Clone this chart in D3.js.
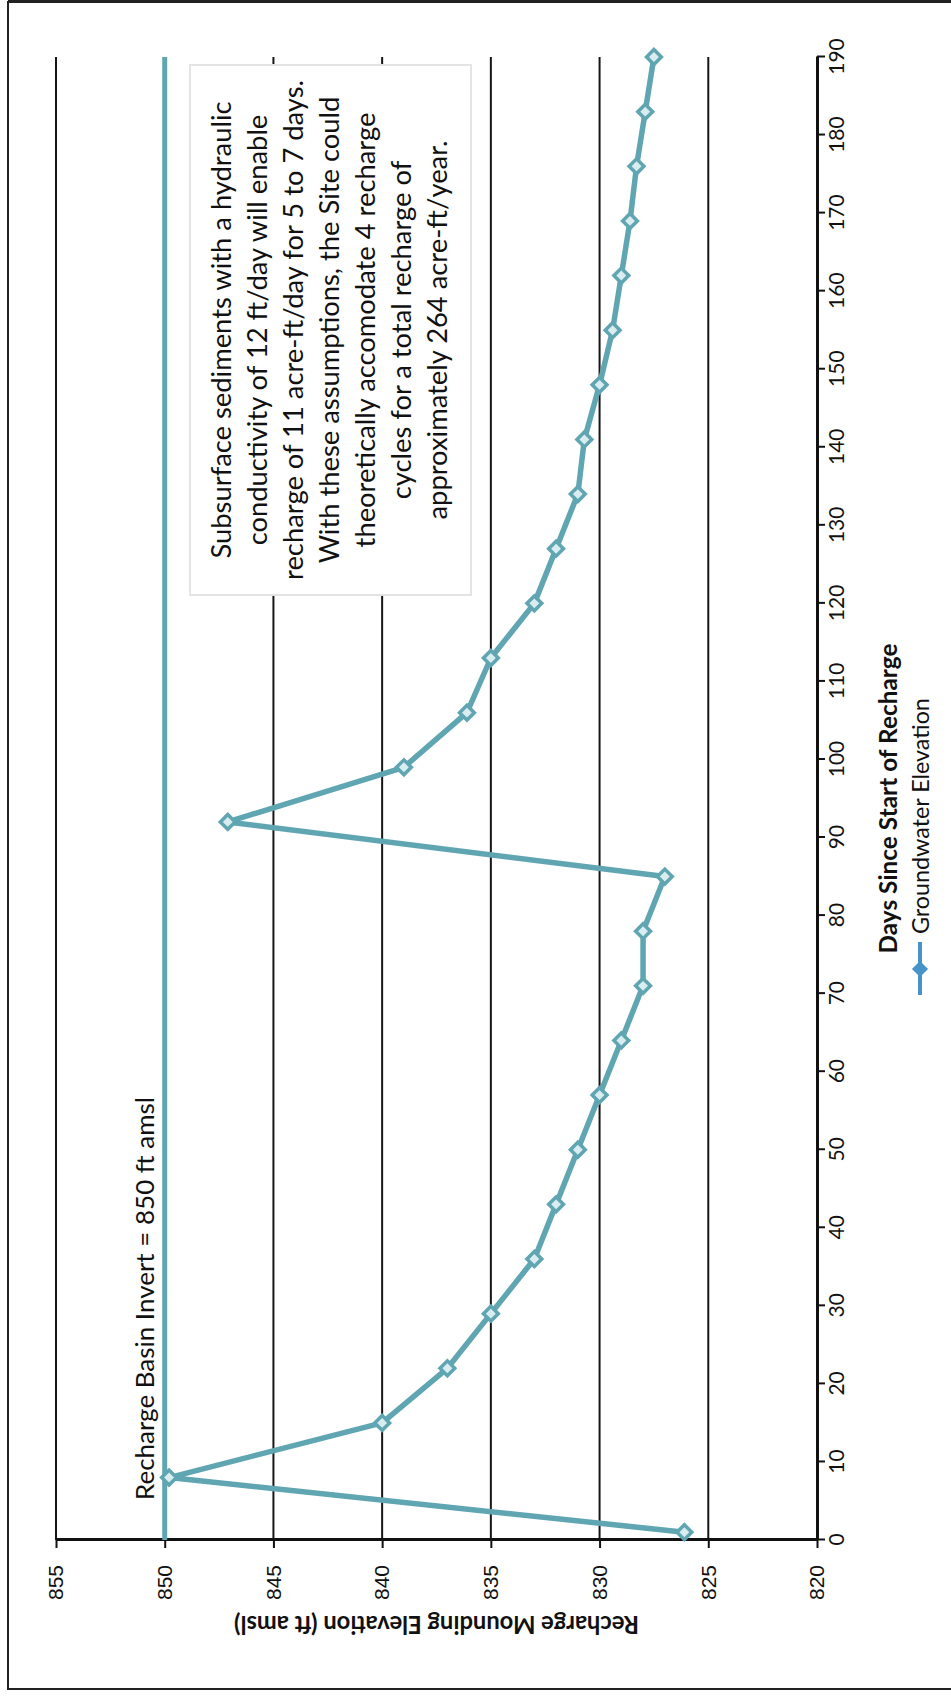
<!DOCTYPE html>
<html><head><meta charset="utf-8">
<script src="https://cdn.jsdelivr.net/npm/d3@7"></script>
<style>body{margin:0;background:#fff}svg{display:block}</style>
</head><body>
<svg id="chart" width="951" height="1697"></svg>
<script>
// ---- data ----
const days = [1,8,15,22,29,36,43,50,57,64,71,78,85,92,99,106,113,120,127,134,141,148,155,162,169,176,183,190];
const groundwater = [826.1,849.8,840.0,837.0,835.0,833.0,832.0,831.0,830.0,829.0,828.0,828.0,827.0,847.1,839.0,836.1,835.0,833.0,832.0,831.0,830.7,830.0,829.4,829.0,828.6,828.3,827.9,827.5];
const invertDays = [0, 190];
const invertElev = [850, 850];
const dayTicks = [0,10,20,30,40,50,60,70,80,90,100,110,120,130,140,150,160,170,180,190];
const elevTicks = [820,825,830,835,840,845,850,855];
const gridElev = [855,850,845,840,835,830,825];
const seriesName = "Groundwater Elevation";
const xTitle = "Days Since Start of Recharge";
const yTitle = "Recharge Mounding Elevation (ft amsl)";
const invertLabel = "Recharge Basin Invert = 850 ft amsl";
const noteLines = [
  "Subsurface sediments with a hydraulic",
  "conductivity of 12 ft/day will enable",
  "recharge of 11 acre-ft/day for 5 to 7 days.",
  "With these assumptions, the Site could",
  "theoretically accomodate 4 recharge",
  "cycles for a total recharge of",
  "approximately 264 acre-ft/year."
];

const TEAL = "#5fa6b2";
const BLUE = "#4593c8";
const W = 951, H = 1697;
const svg = d3.select("#chart");

// page frame
svg.append("line").attr("x1",8).attr("x2",8).attr("y1",1).attr("y2",1690).attr("stroke","#222").attr("stroke-width",2);
svg.append("line").attr("x1",8).attr("x2",W).attr("y1",1.5).attr("y2",1.5).attr("stroke","#222").attr("stroke-width",3);
svg.append("line").attr("x1",8).attr("x2",W).attr("y1",1689).attr("y2",1689).attr("stroke","#222").attr("stroke-width",2);

// chart drawn in its own (rotated) frame
const g = svg.append("g").attr("transform",`translate(0,${H}) rotate(-90)`);
const x = d3.scaleLinear().domain([0,190]).range([157,1640]);
const y = d3.scaleLinear().domain([820,855]).range([817,56]);

function fit(sel, target){
  const L = sel.node().getComputedTextLength();
  const fs = parseFloat(sel.attr("font-size"));
  sel.attr("font-size", (fs*target/L).toFixed(2));
  return sel;
}

// gridlines
g.append("g").selectAll("line").data(gridElev).join("line")
  .attr("x1",x(0)).attr("x2",x(190)).attr("y1",d=>y(d)).attr("y2",d=>y(d))
  .attr("stroke","#161616").attr("stroke-width",2);

// note box (covers gridlines)
const boxX0 = 1102, boxX1 = 1632, boxY0 = 190, boxY1 = 471;
g.append("rect").attr("x",boxX0).attr("y",boxY0).attr("width",boxX1-boxX0).attr("height",boxY1-boxY0)
  .attr("fill","#fff").attr("stroke","#e4e4e4").attr("stroke-width",2);
const noteG = g.append("g").attr("font-family","Lato, 'Open Sans', sans-serif").attr("fill","#111");
const noteTexts = noteG.selectAll("text").data(noteLines).join("text")
  .attr("x",(boxX0+boxX1)/2).attr("y",(d,i)=>220+36*i)
  .attr("text-anchor","middle").attr("dominant-baseline","central")
  .attr("font-size",22).text(d=>d);
{
  const t = noteTexts.filter((d,i)=>i===2);
  const L = t.node().getComputedTextLength();
  const fs = 22*500/L;
  noteTexts.attr("font-size",fs.toFixed(2));
}

// axes
const xAxis = g.append("g").attr("transform",`translate(0,${y(820)})`)
  .call(d3.axisBottom(x).tickValues(dayTicks).tickSize(8).tickSizeOuter(0).tickPadding(4));
xAxis.select(".domain").attr("stroke","#111").attr("stroke-width",3);
xAxis.selectAll(".tick line").attr("stroke","#111").attr("stroke-width",2);
xAxis.selectAll(".tick text").attr("font-family","Lato, sans-serif").attr("font-size",21).attr("fill","#111");

const yAxis = g.append("g").attr("transform",`translate(${x(0)},0)`)
  .call(d3.axisLeft(y).tickValues(elevTicks).tickSize(8).tickSizeOuter(0).tickPadding(17));
yAxis.select(".domain").attr("stroke","#111").attr("stroke-width",3);
yAxis.selectAll(".tick line").attr("stroke","#111").attr("stroke-width",2);
yAxis.selectAll(".tick text").attr("font-family","'Liberation Sans', Arial, sans-serif").attr("font-size",21).attr("fill","#111");

// titles
fit(g.append("text").attr("transform",`translate(72,${(y(855)+y(820))/2}) rotate(-90)`)
  .attr("text-anchor","middle").attr("dominant-baseline","central")
  .attr("font-family","Lato, sans-serif").attr("font-weight","bold").attr("font-size",22).attr("fill","#111")
  .text(yTitle), 405);
fit(g.append("text").attr("x",(x(0)+x(190))/2).attr("y",887)
  .attr("text-anchor","middle").attr("dominant-baseline","central")
  .attr("font-family","Lato, sans-serif").attr("font-weight","bold").attr("font-size",22).attr("fill","#111")
  .text(xTitle), 310);

// legend
const legG = g.append("g");
legG.append("line").attr("x1",702).attr("x2",755).attr("y1",920).attr("y2",920).attr("stroke",BLUE).attr("stroke-width",4);
legG.append("path").attr("d",d3.symbol(d3.symbolSquare,130)()).attr("transform","translate(728,920) rotate(45)").attr("fill",BLUE);
fit(legG.append("text").attr("x",763).attr("y",920).attr("dominant-baseline","central")
  .attr("font-family","Lato, sans-serif").attr("font-size",21).attr("fill","#111").text(seriesName), 236);

// invert line
const line = d3.line().x(d=>x(d[0])).y(d=>y(d[1]));
g.append("path").datum(invertDays.map((d,i)=>[d,invertElev[i]])).attr("d",line)
  .attr("fill","none").attr("stroke",TEAL).attr("stroke-width",5);
fit(g.append("text").attr("x",197).attr("y",154)
  .attr("font-family","Lato, sans-serif").attr("font-size",22).attr("fill","#111").text(invertLabel), 403);

// groundwater series
const pts = days.map((d,i)=>[d,groundwater[i]]);
g.append("path").datum(pts).attr("d",line)
  .attr("fill","none").attr("stroke",TEAL).attr("stroke-width",5.5).attr("stroke-linejoin","round");
g.append("g").selectAll("path").data(pts).join("path")
  .attr("d",d3.symbol(d3.symbolSquare,110)())
  .attr("transform",d=>`translate(${x(d[0])},${y(d[1])}) rotate(45)`)
  .attr("fill","#d9ecef").attr("stroke",TEAL).attr("stroke-width",3.5);
</script>
</body></html>
